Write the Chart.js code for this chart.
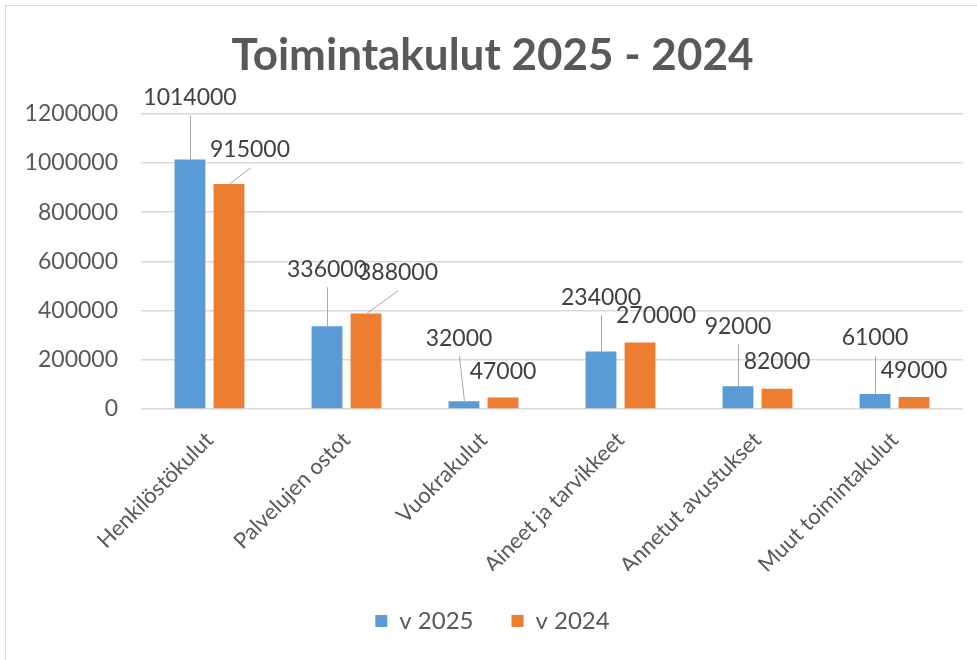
<!DOCTYPE html>
<html>
<head>
<meta charset="utf-8">
<title>Toimintakulut 2025 - 2024</title>
<script src="https://cdn.jsdelivr.net/npm/chart.js@4"></script>
<style>
  html, body { margin: 0; padding: 0; background: #fff; overflow: hidden; }
  #frame { position: absolute; left: 5px; top: 5px; width: 1000px; height: 700px; border: 1px solid #d9d9d9; }
  #wrap { position: absolute; left: 0; top: 0; width: 977px; height: 660px; }
</style>
</head>
<body>
<div id="frame"></div>
<div id="wrap"><canvas id="chart" width="977" height="660"></canvas></div>
<script>
// data
const categories = ["Henkilöstökulut", "Palvelujen ostot", "Vuokrakulut", "Aineet ja tarvikkeet", "Annetut avustukset", "Muut toimintakulut"];
const values2025 = [1014000, 336000, 32000, 234000, 92000, 61000];
const values2024 = [915000, 388000, 47000, 270000, 82000, 49000];
const seriesNames = ["v 2025", "v 2024"];
const yMax = 1200000;
const yStep = 200000;

// where each value label sits relative to the top of its bar [dx, dy, leader line]
const labelOffsets = [
  [[0, -62, true], [0, -57, true], [-5, -63, true], [0, -54, true], [0, -60, true], [0, -56, true]],
  [[21, -34, true], [32, -41, true], [0, -26, false], [16, -27, false], [0, -27, false], [0, -26, false]]
];

const textGray = "#595959";

// value labels with leader lines, like the Excel original
const dataLabels = {
  id: "dataLabels",
  afterDatasetsDraw(chart) {
    const ctx = chart.ctx;
    ctx.save();
    ctx.font = "23px Lato";
    ctx.textAlign = "center";
    ctx.textBaseline = "middle";
    chart.data.datasets.forEach((ds, di) => {
      const meta = chart.getDatasetMeta(di);
      meta.data.forEach((bar, i) => {
        const [dx, dy, leader] = labelOffsets[di][i];
        const lx = bar.x + dx;
        const ly = bar.y + dy;
        if (leader) {
          ctx.strokeStyle = "#a6a6a6";
          ctx.lineWidth = 1;
          ctx.beginPath();
          ctx.moveTo(lx + 0.5, ly + 18);
          ctx.lineTo(bar.x + 0.5, bar.y);
          ctx.stroke();
        }
        ctx.fillStyle = "#404040";
        ctx.fillText(String(ds.data[i]), lx, ly);
      });
    });
    ctx.restore();
  }
};

const chart = new Chart(document.getElementById("chart"), {
  type: "bar",
  data: {
    labels: categories,
    datasets: [
      { label: seriesNames[0], data: values2025, backgroundColor: "#5b9bd5", categoryPercentage: 0.57, barPercentage: 0.79 },
      { label: seriesNames[1], data: values2024, backgroundColor: "#ed7d31", categoryPercentage: 0.57, barPercentage: 0.79 }
    ]
  },
  options: {
    responsive: false,
    animation: false,
    layout: { padding: { left: 22, right: 14, top: 0, bottom: 17 } },
    plugins: {
      title: {
        display: true,
        text: "Toimintakulut 2025 - 2024",
        color: textGray,
        font: { family: "Lato", size: 44, weight: "bold" },
        padding: { top: 29, bottom: 32 }
      },
      legend: {
        position: "bottom",
        labels: {
          color: textGray,
          font: { family: "Lato", size: 24 },
          boxWidth: 12,
          boxHeight: 12,
          padding: 38
        }
      },
      tooltip: { enabled: false }
    },
    scales: {
      x: {
        grid: { display: false },
        border: { display: false },
        ticks: {
          color: textGray,
          font: { family: "Lato", size: 22 },
          minRotation: 45,
          maxRotation: 45,
          autoSkip: false,
          padding: 10
        },
        afterFit(scale) { scale.height = 162; }
      },
      y: {
        min: 0,
        max: yMax,
        ticks: {
          stepSize: yStep,
          color: textGray,
          font: { family: "Lato", size: 23 },
          padding: 23,
          callback: (v) => String(v)
        },
        grid: { color: "#d9d9d9", lineWidth: 1.5, drawTicks: false },
        border: { display: false },
        afterFit(scale) { scale.width = 119; }
      }
    }
  },
  plugins: [dataLabels]
});
</script>
</body>
</html>
